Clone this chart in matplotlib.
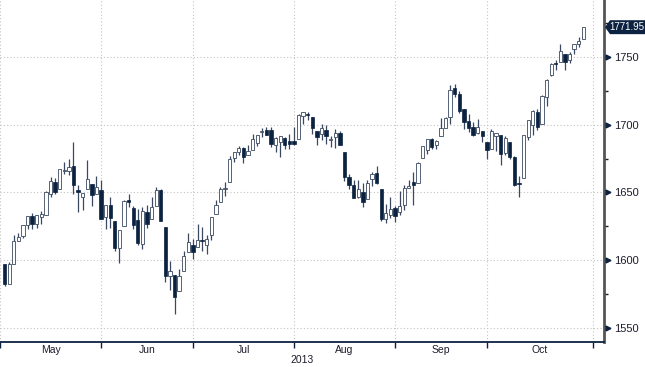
import numpy as np
import pandas as pd
import matplotlib
matplotlib.use("Agg")
import matplotlib.pyplot as plt
import matplotlib.transforms as mtransforms
from matplotlib.patches import Polygon

plt.rcParams["font.family"] = ["Liberation Sans", "DejaVu Sans"]

# S&P 500 daily candles, May - Oct 2013
dates = [
    "2013-05-01", "2013-05-02", "2013-05-03", "2013-05-06", "2013-05-07", "2013-05-08",
    "2013-05-09", "2013-05-10", "2013-05-13", "2013-05-14", "2013-05-15", "2013-05-16",
    "2013-05-17", "2013-05-20", "2013-05-21", "2013-05-22", "2013-05-23", "2013-05-24",
    "2013-05-28", "2013-05-29", "2013-05-30", "2013-05-31",
    "2013-06-03", "2013-06-04", "2013-06-05", "2013-06-06", "2013-06-07", "2013-06-10",
    "2013-06-11", "2013-06-12", "2013-06-13", "2013-06-14", "2013-06-17", "2013-06-18",
    "2013-06-19", "2013-06-20", "2013-06-21", "2013-06-24", "2013-06-25", "2013-06-26",
    "2013-06-27", "2013-06-28",
    "2013-07-01", "2013-07-02", "2013-07-03", "2013-07-05", "2013-07-08", "2013-07-09",
    "2013-07-10", "2013-07-11", "2013-07-12", "2013-07-15", "2013-07-16", "2013-07-17",
    "2013-07-18", "2013-07-19", "2013-07-22", "2013-07-23", "2013-07-24", "2013-07-25",
    "2013-07-26", "2013-07-29", "2013-07-30", "2013-07-31",
    "2013-08-01", "2013-08-02", "2013-08-05", "2013-08-06", "2013-08-07", "2013-08-08",
    "2013-08-09", "2013-08-12", "2013-08-13", "2013-08-14", "2013-08-15", "2013-08-16",
    "2013-08-19", "2013-08-20", "2013-08-21", "2013-08-22", "2013-08-23", "2013-08-26",
    "2013-08-27", "2013-08-28", "2013-08-29", "2013-08-30",
    "2013-09-03", "2013-09-04", "2013-09-05", "2013-09-06", "2013-09-09", "2013-09-10",
    "2013-09-11", "2013-09-12", "2013-09-13", "2013-09-16", "2013-09-17", "2013-09-18",
    "2013-09-19", "2013-09-20", "2013-09-23", "2013-09-24", "2013-09-25", "2013-09-26",
    "2013-09-27", "2013-09-30",
    "2013-10-01", "2013-10-02", "2013-10-03", "2013-10-04", "2013-10-07", "2013-10-08",
    "2013-10-09", "2013-10-10", "2013-10-11", "2013-10-14", "2013-10-15", "2013-10-16",
    "2013-10-17", "2013-10-18", "2013-10-21", "2013-10-22", "2013-10-23", "2013-10-24",
    "2013-10-25", "2013-10-28", "2013-10-29",
]
opens = [
    1597.55, 1582.77, 1597.60, 1614.40, 1617.55, 1625.95, 1632.69, 1626.69, 1632.10, 1633.75,
    1649.13, 1658.07, 1652.45, 1665.71, 1666.20, 1669.39, 1651.62, 1646.67, 1652.63, 1656.57,
    1649.14, 1652.13,
    1631.71, 1640.73, 1629.05, 1609.29, 1625.27, 1644.67, 1638.64, 1629.94, 1612.15, 1635.52,
    1630.64, 1639.77, 1651.83, 1624.62, 1588.62, 1588.77, 1577.52, 1592.27, 1606.44, 1611.12,
    1609.78, 1614.29, 1611.48, 1618.65, 1634.20, 1642.89, 1652.50, 1657.41, 1675.26, 1679.59,
    1682.70, 1677.91, 1681.05, 1686.15, 1694.41, 1696.06, 1696.06, 1685.21, 1687.31, 1690.32,
    1687.92, 1687.76,
    1689.42, 1706.10, 1708.01, 1705.79, 1695.30, 1693.35, 1696.10, 1688.37, 1690.65, 1693.88,
    1679.61, 1661.22, 1655.25, 1646.81, 1650.66, 1645.03, 1659.92, 1664.29, 1652.54, 1630.25,
    1633.50, 1638.89,
    1635.95, 1640.72, 1653.28, 1657.44, 1656.85, 1675.11, 1681.04, 1689.21, 1685.04, 1691.70,
    1697.73, 1705.74, 1727.34, 1722.44, 1711.44, 1702.60, 1698.02, 1694.05, 1695.52, 1687.26,
    1682.41, 1691.90, 1692.35, 1678.79, 1687.15, 1676.22, 1656.99, 1660.88, 1691.09, 1699.86,
    1709.17, 1700.49, 1720.17, 1736.72, 1745.20, 1746.48, 1752.27, 1747.48, 1756.01, 1759.42,
    1762.93,
]
highs = [
    1597.55, 1598.60, 1618.46, 1619.77, 1626.03, 1632.78, 1635.01, 1633.70, 1636.00, 1651.10,
    1661.49, 1660.51, 1667.47, 1672.84, 1674.93, 1687.18, 1655.50, 1649.78, 1674.21, 1656.57,
    1661.91, 1658.99,
    1640.42, 1646.53, 1629.31, 1622.56, 1644.40, 1648.69, 1640.13, 1637.71, 1639.25, 1640.80,
    1646.50, 1654.19, 1652.45, 1624.62, 1599.19, 1588.77, 1593.79, 1606.83, 1620.07, 1615.94,
    1626.61, 1624.26, 1618.97, 1632.07, 1644.68, 1654.18, 1657.92, 1676.63, 1680.19, 1684.51,
    1683.73, 1684.75, 1693.12, 1692.09, 1697.61, 1698.38, 1698.38, 1690.94, 1691.85, 1690.92,
    1693.19, 1698.43,
    1707.85, 1709.67, 1709.24, 1705.79, 1695.30, 1700.18, 1699.42, 1691.49, 1696.81, 1695.52,
    1679.61, 1663.60, 1659.18, 1658.92, 1656.99, 1659.55, 1664.85, 1669.51, 1652.54, 1641.18,
    1646.41, 1640.08,
    1651.35, 1655.72, 1659.17, 1664.83, 1672.40, 1684.09, 1689.13, 1689.97, 1688.73, 1704.95,
    1705.52, 1729.44, 1729.86, 1725.23, 1711.44, 1707.63, 1701.71, 1703.85, 1695.52, 1687.26,
    1696.55, 1693.87, 1692.35, 1691.94, 1687.15, 1676.79, 1662.47, 1692.56, 1703.44, 1711.03,
    1711.57, 1721.76, 1733.45, 1745.31, 1747.79, 1759.33, 1752.27, 1753.94, 1759.82, 1764.99,
    1772.09,
]
lows = [
    1581.28, 1582.77, 1597.60, 1614.21, 1616.64, 1622.70, 1623.09, 1623.71, 1626.74, 1633.75,
    1646.68, 1648.60, 1652.45, 1663.52, 1662.67, 1648.86, 1635.53, 1636.88, 1652.63, 1640.05,
    1648.61, 1630.74,
    1622.72, 1623.62, 1607.09, 1598.23, 1625.27, 1639.26, 1622.92, 1610.92, 1608.07, 1623.96,
    1630.34, 1639.77, 1628.91, 1584.32, 1577.70, 1560.33, 1577.09, 1592.27, 1606.44, 1601.06,
    1609.78, 1606.77, 1604.57, 1614.71, 1634.20, 1642.89, 1647.66, 1657.41, 1672.33, 1677.89,
    1671.84, 1677.91, 1681.05, 1684.08, 1690.67, 1692.13, 1683.36, 1680.07, 1676.03, 1681.86,
    1682.42, 1684.94,
    1689.42, 1700.68, 1703.55, 1693.29, 1684.91, 1688.38, 1686.02, 1683.35, 1682.62, 1684.83,
    1658.59, 1652.61, 1646.08, 1646.08, 1639.43, 1645.03, 1654.81, 1656.02, 1629.05, 1627.47,
    1630.88, 1628.05,
    1633.41, 1637.41, 1653.07, 1640.62, 1656.85, 1675.11, 1678.70, 1681.96, 1682.22, 1691.70,
    1697.73, 1700.35, 1720.20, 1708.89, 1697.10, 1694.90, 1691.88, 1693.11, 1687.11, 1674.99,
    1682.07, 1680.34, 1670.36, 1677.33, 1674.70, 1655.03, 1646.47, 1660.88, 1688.52, 1692.13,
    1695.93, 1700.49, 1714.12, 1735.74, 1740.67, 1746.48, 1740.50, 1745.50, 1752.45, 1757.67,
    1762.93,
]
closes = [
    1582.70, 1597.59, 1614.42, 1617.50, 1625.96, 1632.69, 1626.67, 1633.70, 1633.77, 1650.34,
    1658.78, 1650.47, 1667.47, 1666.29, 1669.16, 1655.35, 1650.51, 1649.60, 1660.06, 1648.36,
    1654.41, 1630.74,
    1640.42, 1631.38, 1608.90, 1622.56, 1643.38, 1642.81, 1626.13, 1612.52, 1636.36, 1626.73,
    1639.04, 1651.81, 1628.93, 1588.19, 1592.43, 1573.09, 1588.03, 1603.26, 1613.20, 1606.28,
    1614.96, 1614.08, 1615.41, 1631.89, 1640.46, 1652.32, 1652.62, 1675.02, 1680.19, 1682.50,
    1676.26, 1680.91, 1689.37, 1692.09, 1695.53, 1692.39, 1685.94, 1690.25, 1691.65, 1685.33,
    1685.96, 1685.73,
    1706.87, 1709.67, 1707.14, 1697.37, 1690.91, 1697.48, 1691.42, 1689.47, 1694.16, 1685.39,
    1661.32, 1655.83, 1646.06, 1652.35, 1642.80, 1656.96, 1663.50, 1656.78, 1630.48, 1634.96,
    1638.17, 1632.97,
    1639.77, 1653.08, 1655.08, 1655.17, 1671.71, 1683.99, 1689.13, 1683.42, 1687.99, 1697.60,
    1704.76, 1725.52, 1722.34, 1709.91, 1701.84, 1697.42, 1692.77, 1698.67, 1691.75, 1681.55,
    1695.00, 1693.87, 1678.66, 1690.50, 1676.12, 1655.45, 1656.40, 1692.56, 1703.20, 1710.14,
    1698.06, 1721.54, 1733.15, 1744.50, 1744.66, 1754.67, 1746.38, 1752.07, 1759.77, 1762.11,
    1771.95,
]
month_labels = ["May", "Jun", "Jul", "Aug", "Sep", "Oct"]
year_label = "2013"
last_price = "1771.95"

dark = "#0c2241"
edge = "#3a4960"
txt = "#1c1c2c"

# trading calendar so gaps (weekends, holidays) are skipped
holidays = pd.to_datetime(["2013-05-27", "2013-07-04", "2013-09-02"])
cal = pd.bdate_range("2013-04-30", "2013-11-08")
cal = cal[~cal.isin(holidays)]
pos = {d: i for i, d in enumerate(cal)}

x = np.array([pos[d] for d in pd.to_datetime(dates)])
o = np.array(opens); h = np.array(highs); l = np.array(lows); c = np.array(closes)
up = c >= o
lo = np.minimum(o, c)
ht = np.maximum(np.abs(c - o), 0.5)

# month boundaries: last trading day of each month
s = pd.Series(np.arange(len(cal)), index=cal)
month_ends = s.groupby([cal.year, cal.month]).max().values[:7]
mids = (month_ends[:-1] + month_ends[1:]) / 2.0

fig = plt.figure(figsize=(6.45, 3.67), dpi=100)
ax = fig.add_axes([0, 25 / 367, 604 / 645, 342 / 367])

ax.vlines(x, l, h, color=edge, lw=0.9, zorder=2)
ax.bar(x[up], ht[up], bottom=lo[up], width=0.72, color="white", edgecolor=edge, lw=0.6, zorder=3)
ax.bar(x[~up], ht[~up], bottom=lo[~up], width=0.72, color=dark, edgecolor=dark, lw=0.5, zorder=3)

ax.set_xlim(2, 131.5)
ax.set_ylim(1539.7, 1792)

for sp in ["top", "left"]:
    ax.spines[sp].set_visible(False)
ax.spines["right"].set_color("#555555")
ax.spines["right"].set_linewidth(2)
ax.spines["bottom"].set_color(dark)
ax.spines["bottom"].set_linewidth(1.3)

ax.yaxis.tick_right()
ax.set_yticks([1550, 1600, 1650, 1700, 1750])
ax.set_yticks([1575, 1625, 1675, 1725, 1775], minor=True)
ax.tick_params(axis="y", which="major", length=0, pad=7, labelsize=8, labelcolor=txt)
ax.tick_params(axis="y", which="minor", length=3, width=1, color=txt)
trans = mtransforms.blended_transform_factory(ax.transAxes, ax.transData)
ax.plot([1.006] * 5, [1550, 1600, 1650, 1700, 1750], ls="none", marker=">", ms=3.5,
        color=dark, transform=trans, clip_on=False, zorder=5)

ax.set_xticks(month_ends)
ax.set_xticklabels([])
ax.tick_params(axis="x", which="major", length=4, width=1, color=dark, direction="out")
xtrans = mtransforms.blended_transform_factory(ax.transData, ax.transAxes)
for m, lab in zip(mids, month_labels):
    ax.text(m, -8 / 342, lab, transform=xtrans, ha="center", va="center", fontsize=7.5, color=txt)
ax.text(0.5, -18 / 342, year_label, transform=ax.transAxes, ha="center", va="center",
        fontsize=7.5, color=txt)

ax.grid(True, which="major", color="#c4c4c4", linestyle=(0, (1, 2)), linewidth=0.8)
ax.set_axisbelow(True)

# last price tag
yp = closes[-1]
dy = 7 / 1.36
tag = Polygon([(605 / 604, yp), (610 / 604, yp + dy), (646 / 604, yp + dy),
               (646 / 604, yp - dy), (610 / 604, yp - dy)], closed=True,
              facecolor=dark, edgecolor="none", transform=trans, clip_on=False, zorder=6)
ax.add_patch(tag)
ax.text(627 / 604, yp, last_price, transform=trans, ha="center", va="center",
        fontsize=7, color="white", zorder=7, clip_on=False)

fig.savefig("out.png", dpi=100)
